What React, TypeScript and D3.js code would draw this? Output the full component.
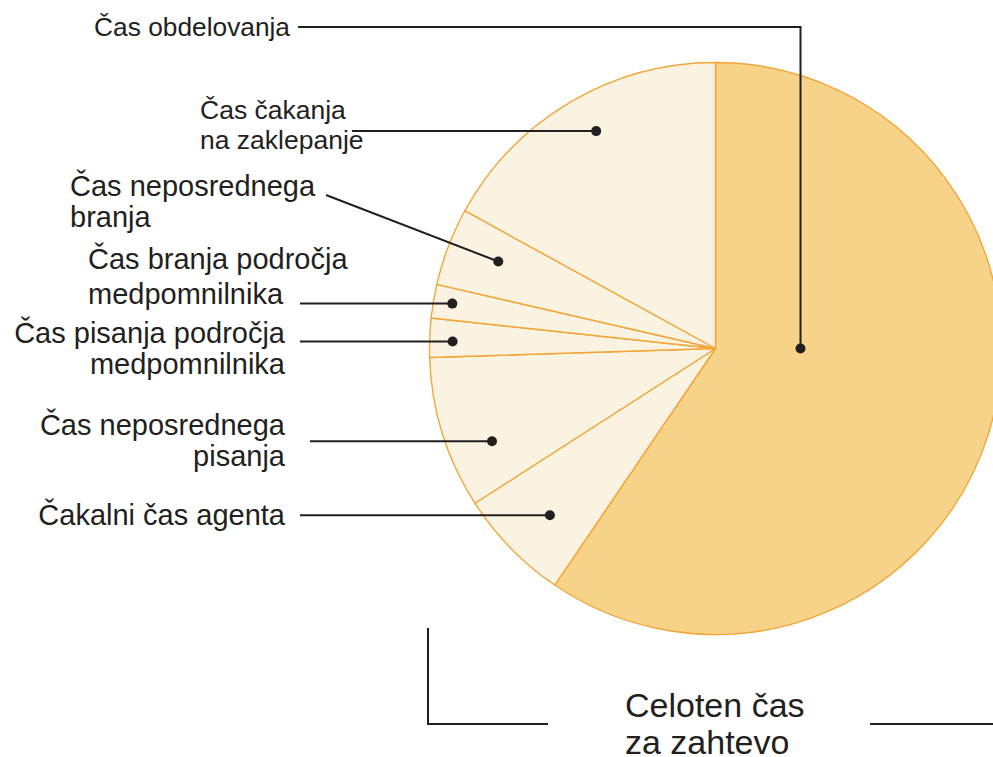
import React, { useEffect, useRef } from "react";
import * as d3 from "d3";

// slices in clockwise order starting at 12 o'clock
const categories = [
  "Čas obdelovanja",
  "Čakalni čas agenta",
  "Čas neposrednega pisanja",
  "Čas pisanja področja medpomnilnika",
  "Čas branja področja medpomnilnika",
  "Čas neposrednega branja",
  "Čas čakanja na zaklepanje",
];
const values = [59.5, 6.4, 8.6, 2.2, 1.9, 4.4, 17.0];
const labelLines = [
  ["Čas obdelovanja"],
  ["Čakalni čas agenta"],
  ["Čas neposrednega", "pisanja"],
  ["Čas pisanja področja", "medpomnilnika"],
  ["Čas branja področja", "medpomnilnika"],
  ["Čas neposrednega", "branja"],
  ["Čas čakanja", "na zaklepanje"],
];
const totalLabel = ["Celoten čas", "za zahtevo"];

const W = 993;
const H = 757;
const cx = 715.5;
const cy = 348.5;
const R = 286;
const ink = "#231f20";
const fontFamily = "'Liberation Sans', Arial, Helvetica, sans-serif";

// label placement (layout only): where the text sits, where the leader starts,
// and where inside the slice the dot goes (fraction of slice angle, radius)
const layout = [
  { x: 290, y: 36, anchor: "end", size: 26.3, lh: 30, from: [298, 27], elbow: true, t: 0.42, r: 85 },
  { x: 285, y: 525, anchor: "end", size: 29, lh: 31, from: [300, null], t: 0.46, r: 235 },
  { x: 285, y: 435, anchor: "end", size: 29, lh: 31, from: [310, null], t: 0.33, r: 242 },
  { x: 285, y: 343, anchor: "end", size: 29, lh: 31, from: [300, null], t: 0.42, r: 263 },
  { x: 88, y: 269, anchor: "start", size: 29, lh: 35, from: [300, null], t: 0.52, r: 267 },
  { x: 70, y: 196, anchor: "start", size: 29, lh: 31, from: [326, 195], t: 0.56, r: 234 },
  { x: 200, y: 119, anchor: "start", size: 26.5, lh: 30, from: [352, null], t: 0.53, r: 248 },
];

const PieChart = () => {
  const ref = useRef(null);

  useEffect(() => {
    const svg = d3.select(ref.current);
    svg.selectAll("*").remove();

    const pie = d3
      .pie<number>()
      .sort(null)
      .value((d) => d);
    const arcs = pie(values);

    const arc = d3.arc<d3.PieArcDatum<number>>().innerRadius(0).outerRadius(R);

    const g = svg.append("g").attr("transform", `translate(${cx},${cy})`);

    g.selectAll("path")
      .data(arcs)
      .enter()
      .append("path")
      .attr("d", arc)
      .attr("fill", (d, i) => (i === 0 ? "#f6d389" : "#faf3e1"))
      .attr("stroke", "#f3a53a")
      .attr("stroke-width", 1.4)
      .attr("stroke-linejoin", "round");

    // dots + leader lines
    arcs.forEach((a, i) => {
      const L = layout[i];
      const ang = a.startAngle + L.t * (a.endAngle - a.startAngle);
      const dx = cx + L.r * Math.sin(ang);
      const dy = cy - L.r * Math.cos(ang);

      let pts;
      if (L.elbow) {
        pts = [
          [L.from[0], L.from[1]],
          [dx, L.from[1]],
          [dx, dy],
        ];
      } else {
        const fy = L.from[1] == null ? dy : L.from[1];
        pts = [
          [L.from[0], fy],
          [dx, dy],
        ];
      }

      svg
        .append("path")
        .attr("d", d3.line()(pts as [number, number][]))
        .attr("fill", "none")
        .attr("stroke", ink)
        .attr("stroke-width", 2);

      svg.append("circle").attr("cx", dx).attr("cy", dy).attr("r", 5).attr("fill", ink);

      const text = svg
        .append("text")
        .attr("x", L.x)
        .attr("y", L.y)
        .attr("text-anchor", L.anchor)
        .style("font-family", fontFamily)
        .style("font-size", `${L.size}px`)
        .attr("fill", ink);
      labelLines[i].forEach((line, j) => {
        text.append("tspan").attr("x", L.x).attr("y", L.y + j * L.lh).text(line);
      });
    });

    // total bracket
    svg
      .append("path")
      .attr("d", d3.line()([[428, 628], [428, 724], [548, 724]]))
      .attr("fill", "none")
      .attr("stroke", ink)
      .attr("stroke-width", 2);
    svg
      .append("path")
      .attr("d", d3.line()([[870, 724], [W, 724]]))
      .attr("fill", "none")
      .attr("stroke", ink)
      .attr("stroke-width", 2);

    const total = svg
      .append("text")
      .style("font-family", fontFamily)
      .style("font-size", "34px")
      .attr("fill", ink);
    totalLabel.forEach((line, j) => {
      total.append("tspan").attr("x", 625).attr("y", 717 + j * 37).text(line);
    });
  }, []);

  return (
    <svg
      ref={ref}
      width={W}
      height={H}
      style={{ position: "absolute", left: 0, top: 0, background: "#fff" }}
    />
  );
};

export default function App() {
  return <PieChart />;
}
